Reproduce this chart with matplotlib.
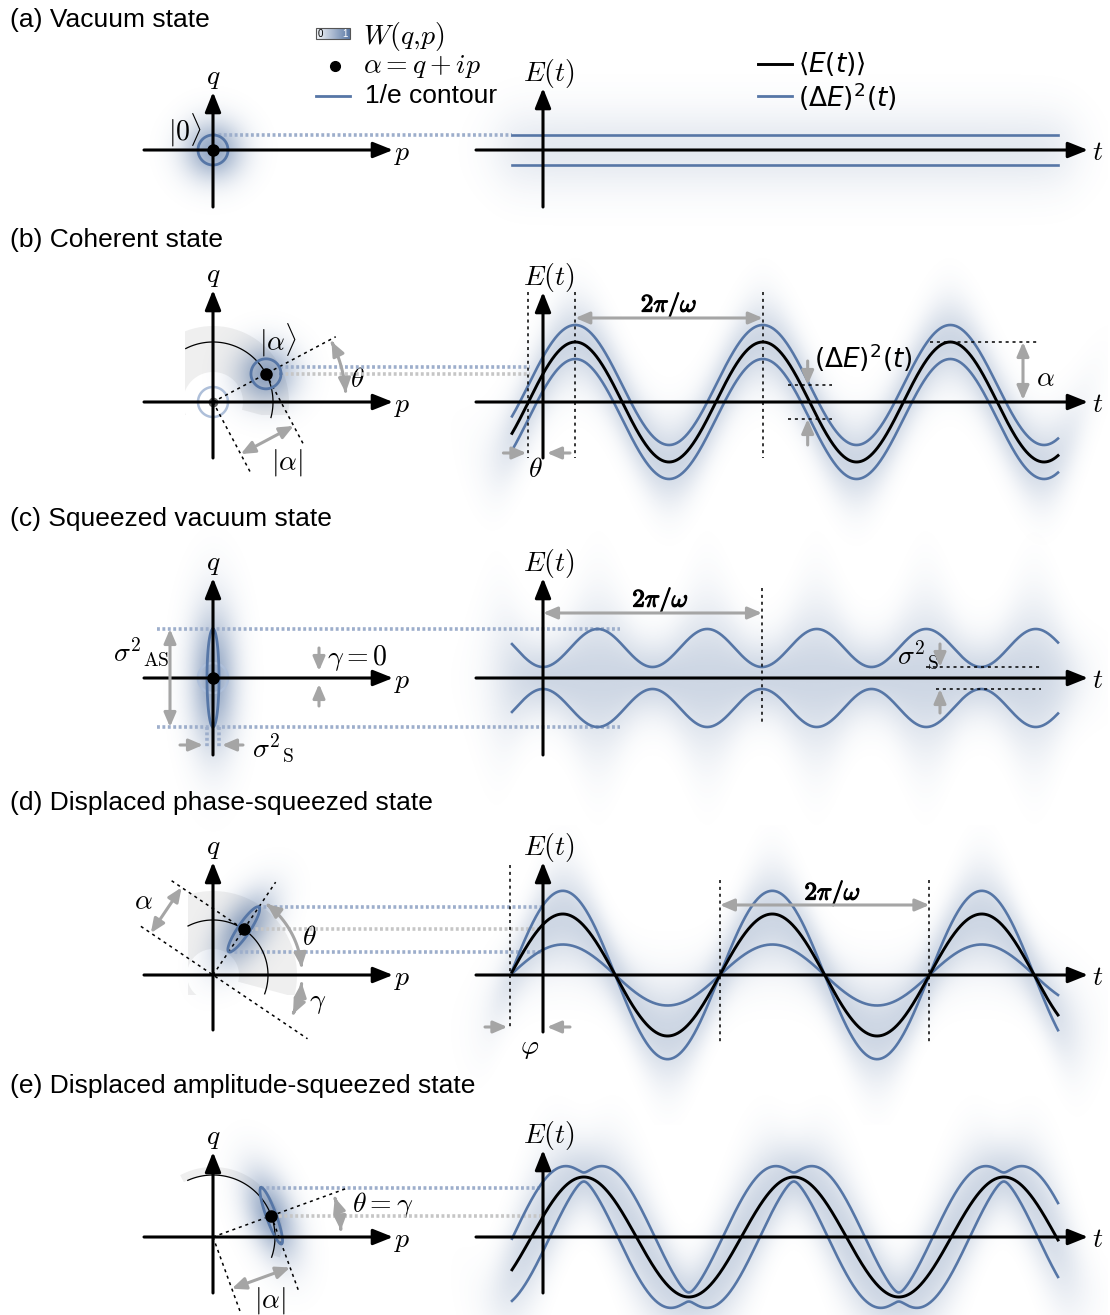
import numpy as np
import matplotlib
matplotlib.use("Agg")
import matplotlib.pyplot as plt
import matplotlib.patheffects as pe
from matplotlib.patches import Polygon, FancyArrowPatch, Rectangle
from matplotlib.path import Path
from matplotlib.colors import to_rgb

plt.rcParams['mathtext.fontset'] = 'cm'
plt.rcParams['font.family'] = ['Liberation Sans', 'DejaVu Sans']

BLUE = '#5676a6'
HAZE = '#3f6296'
GRAY = '#a5a5a5'
DOT_BLUE = '#9daecb'
DOT_GRAY = '#c6c6c6'
LIGHT = '#efefef'

titles = ["(a) Vacuum state", "(b) Coherent state", "(c) Squeezed vacuum state",
          "(d) Displaced phase-squeezed state", "(e) Displaced amplitude-squeezed state"]

# coherent amplitude and phase of each state
alpha_abs = [0, 60, 0, 55, 62]
theta_deg = [0, 28, 0, 56, 20]
# 1/e contour: semi-axes and orientation (deg)
contour_a = [15, 15, 49, 27, 30]
contour_b = [15, 15, 6, 6, 5]
contour_ang = [0, 0, 90, 56, 110]
# field traces
period = [190, 187.5, 219, 209.5, 210]
field_amp = [0, 60, 0, 61, 60]
band_width = [15, 17, 0, 0, 0]          # constant noise band, (a) and (b)
sq_vac = (11, 49)                       # (c) min / max half width
phase_sq = (1.38, 0.5)                  # (d) upper / lower scale of <E>
amp_sq = (4.5, 37)                      # (e) noise at crest / at node

# layout (px)
PX0, TX0 = 213, 543
ROW = [150, 402, 678, 975, 1237]
TITLE_Y = [20, 240, 519, 803, 1086]
Q_TOP = [92, 290, 578, 862, 1152]
Q_BOT = [207, 458, 755, 1030, 1293]
E_TOP = [88, 292, 578, 862, 1150]
E_BOT = [207, 458, 755, 1032, 1293]
T_START, T_END = 512, 1058

fig = plt.figure(figsize=(11.1, 13.15), dpi=100)
ax = fig.add_axes([0, 0, 1, 1])

BOLD = [pe.withStroke(linewidth=0.9, foreground='k')]


def polar(k, r, a_deg, base=None):
    a = np.deg2rad(a_deg)
    if base is None:
        base = (PX0, ROW[k])
    return base[0] + r * np.cos(a), base[1] - r * np.sin(a)


def arc_pts(k, r, a1, a2, n=80):
    a = np.deg2rad(np.linspace(a1, a2, n))
    return np.column_stack([PX0 + r * np.cos(a), ROW[k] - r * np.sin(a)])


def ellipse_pts(cx, cy, a, b, ang, n=120):
    s = np.linspace(0, 2 * np.pi, n)
    u, v = a * np.cos(s), b * np.sin(s)
    r = np.deg2rad(ang)
    p = u * np.cos(r) - v * np.sin(r)
    q = u * np.sin(r) + v * np.cos(r)
    return cx + p, cy - q


def traces(k, t):
    ph = 2 * np.pi * t / period[k] + np.deg2rad(theta_deg[k])
    E = field_amp[k] * np.sin(ph)
    if k in (0, 1):
        return E, E + band_width[k], E - band_width[k]
    if k == 2:
        s = sq_vac[0] + (sq_vac[1] - sq_vac[0]) * np.sin(2 * np.pi * t / period[k]) ** 2
        return E, s, -s
    if k == 3:
        return E, E * phase_sq[0], E * phase_sq[1]
    s = np.sqrt((amp_sq[0] * np.sin(ph)) ** 2 + (amp_sq[1] * np.cos(ph)) ** 2)
    return E, E + s, E - s


def put_haze(x0, x1, y0, y1, dens, amax):
    rgba = np.zeros(dens.shape + (4,))
    rgba[..., :3] = to_rgb(HAZE)
    rgba[..., 3] = np.clip(amax * dens, 0, 1)
    ax.imshow(rgba, extent=(x0, x1, y1, y0), origin='upper',
              interpolation='bilinear', zorder=2, aspect='auto')


def phase_haze(cx, cy, su, sv, ang, amax):
    half = 3.3 * max(su, sv)
    xs = np.arange(cx - half, cx + half + 1, 1.0)
    ys = np.arange(cy - half, cy + half + 1, 1.0)
    X, Y = np.meshgrid(xs, ys)
    p, q = X - cx, cy - Y
    a = np.deg2rad(ang)
    u = p * np.cos(a) + q * np.sin(a)
    v = -p * np.sin(a) + q * np.cos(a)
    dens = np.exp(-0.5 * ((u / su) ** 2 + (v / sv) ** 2))
    put_haze(xs[0], xs[-1], ys[0], ys[-1], dens, amax)


def field_haze(k, amax):
    xs = np.arange(440, 1110, 2.0)
    ys = np.arange(ROW[k] - 150, ROW[k] + 151, 2.0)
    E, up, lo = traces(k, xs - TX0)
    c = (up + lo) / 2
    h = np.abs(up - lo) / 2
    s = np.sqrt((h / 1.1) ** 2 + 25 ** 2)
    Y = ys[:, None]
    dens = np.exp(-0.5 * ((ROW[k] - Y - c[None, :]) / s[None, :]) ** 2)
    env = 1 / (1 + np.exp(-(xs - 500) / 12)) / (1 + np.exp((xs - 1072) / 12))
    put_haze(xs[0], xs[-1], ys[0], ys[-1], dens * env[None, :], amax)


def axis_arrow(x1, y1, x2, y2):
    ax.annotate('', xy=(x2, y2), xytext=(x1, y1), zorder=6,
                arrowprops=dict(arrowstyle='-|>,head_length=0.75,head_width=0.3',
                                color='k', lw=2.2, shrinkA=0, shrinkB=0,
                                mutation_scale=16))


def gray_arrow(x1, y1, x2, y2, both=False):
    st = '<|-|>' if both else '-|>'
    ax.annotate('', xy=(x2, y2), xytext=(x1, y1), zorder=6,
                arrowprops=dict(arrowstyle=st + ',head_length=0.7,head_width=0.3',
                                color=GRAY, lw=2.2, shrinkA=0, shrinkB=0,
                                mutation_scale=12))


def gray_arc(k, r, a1, a2):
    pts = arc_pts(k, r, a1, a2, 40)
    ax.add_patch(FancyArrowPatch(path=Path(pts), zorder=6, color=GRAY, lw=2.2,
                                 arrowstyle='<|-|>,head_length=0.7,head_width=0.3',
                                 mutation_scale=12))


def kdots(xs, ys, lw=1.1):
    ax.plot(xs, ys, color='k', lw=lw, ls=(0, (2, 2.5)), zorder=4)


def bluedots(xs, ys, color=DOT_BLUE):
    ax.plot(xs, ys, color=color, lw=2.6, ls=(0, (0.8, 0.7)), zorder=3)


def band(k, r_in, r_out, a1, a2, clip_x, clip_dy):
    outer = arc_pts(k, r_out, a1, a2)
    inner = arc_pts(k, r_in, a2, a1)
    poly = Polygon(np.vstack([outer, inner]), closed=True, fc=LIGHT, ec='none', zorder=1)
    ax.add_patch(poly)
    clip = Rectangle((clip_x, ROW[k] - 200), 300, 200 + clip_dy,
                     transform=ax.transData)
    poly.set_clip_path(clip)


MATH = 20

# ---------------------------------------------------------------- common frame
for k in range(5):
    ax.text(10, TITLE_Y[k], titles[k], fontsize=19, va='center', ha='left')
    # phase space axes
    axis_arrow(PX0 - 69, ROW[k], PX0 + 180, ROW[k])
    axis_arrow(PX0, Q_BOT[k], PX0, Q_TOP[k])
    ax.text(PX0, Q_TOP[k] - 14, '$q$', fontsize=MATH, ha='center', va='center')
    ax.text(PX0 + 189, ROW[k] + 4, '$p$', fontsize=MATH, ha='center', va='center')
    # field axes
    axis_arrow(476, ROW[k], 1088, ROW[k])
    axis_arrow(TX0, E_BOT[k], TX0, E_TOP[k])
    ax.text(TX0 + 6, E_TOP[k] - 15, '$E(t)$', fontsize=MATH, ha='center', va='center')
    ax.text(1098, ROW[k] + 3, '$t$', fontsize=MATH, ha='center', va='center')

    # field traces
    t = np.linspace(T_START - TX0, T_END - TX0, 900)
    E, up, lo = traces(k, t)
    field_haze(k, 0.14 if k == 0 else 0.26)
    ax.plot(TX0 + t, ROW[k] - up, color=BLUE, lw=1.9, zorder=4)
    ax.plot(TX0 + t, ROW[k] - lo, color=BLUE, lw=1.9, zorder=4)
    if field_amp[k] > 0:
        ax.plot(TX0 + t, ROW[k] - E, color='k', lw=2.1, zorder=5)

    # Wigner function blob and 1/e contour
    cx, cy = polar(k, alpha_abs[k], theta_deg[k])
    a, b = contour_a[k], contour_b[k]
    phase_haze(cx, cy, np.hypot(a * 0.95, 15), np.hypot(b * 0.95, 15), contour_ang[k], 0.55)
    ex, ey = ellipse_pts(cx, cy, a, b, contour_ang[k])
    ax.plot(ex, ey, color=BLUE, lw=2.0, zorder=5)
    ax.plot(cx, cy, 'o', color='k', ms=8, zorder=7)

# ---------------------------------------------------------------- legend
grad = np.linspace(0, 1, 60)[None, :]
rgba = np.zeros((1, 60, 4))
rgba[..., :3] = to_rgb(HAZE)
rgba[..., 3] = 0.05 + 0.8 * grad
ax.imshow(rgba, extent=(316, 350, 39, 28), origin='upper', aspect='auto', zorder=5)
ax.add_patch(Rectangle((316, 28), 34, 11, fc='none', ec='#555555', lw=0.8, zorder=6))
ax.text(320.5, 33.5, '0', fontsize=7, ha='center', va='center', zorder=7)
ax.text(345, 33.5, '1', fontsize=7, ha='center', va='center', color='white', zorder=7)
ax.text(363, 36, '$W(q{,}p)$', fontsize=MATH, ha='left', va='center')
ax.plot(335, 66, 'o', color='k', ms=7)
ax.text(363, 66, r'$\alpha = q + ip$', fontsize=MATH, ha='left', va='center')
ax.plot([316, 350], [96, 96], color=BLUE, lw=2.0)
ax.text(365, 96, '1/e contour', fontsize=19, ha='left', va='center')
ax.plot([758, 792], [64, 64], color='k', lw=2.1)
ax.text(798, 64, r'$\langle E(t)\rangle$', fontsize=19, ha='left', va='center',
        math_fontfamily='dejavusans')
ax.plot([758, 792], [96, 96], color=BLUE, lw=2.0)
ax.text(798, 97, r'$(\mathit{\Delta E})^2(t)$', fontsize=19, ha='left', va='center',
        math_fontfamily='dejavusans')

# ---------------------------------------------------------------- (a)
k = 0
ax.text(185, 130, r'$|0\rangle$', fontsize=MATH, ha='center', va='center')
bluedots([PX0, T_START], [ROW[k] - band_width[k]] * 2)

# ---------------------------------------------------------------- (b)
k = 1
th, A, T = theta_deg[k], alpha_abs[k], period[k]
band(k, 30, 76, -15, 270, 185, 13)
o = (PX0, ROW[k])
dot = polar(k, A, th)
ax.plot(*zip(*[polar(k, 15, a) for a in np.linspace(0, 360, 90)]), color='#aebfd9', lw=1.8, zorder=4)
ax.plot(PX0, ROW[k], 'o', color='#666666', ms=6, zorder=4)
arc = arc_pts(k, A, -15, 117)
ax.plot(arc[:, 0], arc[:, 1], color='k', lw=0.9, zorder=4)
kdots(*zip(o, polar(k, 139, th)))
kdots(*zip(o, polar(k, 80, th - 90, o)))
kdots(*zip(dot, polar(k, 82, th - 90, dot)))
p1, p2 = polar(k, 59, th - 90, o), polar(k, 59, th - 90, dot)
gray_arrow(*p1, *p2, both=True)
ax.text(287, 462, r'$|\alpha|$', fontsize=MATH, ha='center', va='center')
gray_arc(k, 133, 4, 27)
ax.text(357, 380, r'$\theta$', fontsize=MATH, ha='center', va='center')
ax.text(278, 340, r'$|\alpha\rangle$', fontsize=MATH, ha='center', va='center')
bluedots([dot[0] + 14, 530], [dot[1] - 7] * 2)
bluedots([dot[0] + 14, 530], [dot[1]] * 2, DOT_GRAY)

tz = TX0 - th / 360 * T
tp = TX0 + (90 - th) / 360 * T
for x in (tz, tp, tp + T):
    kdots([x, x], [292, 458])
gray_arrow(tp, 318, tp + T, 318, both=True)
ax.text((2 * tp + T) / 2, 305, r'$2\pi/\omega$', fontsize=18, ha='center', va='center',
        path_effects=BOLD)
gray_arrow(tz - 25, 453, tz - 2, 453)
gray_arrow(TX0 + 27, 453, TX0 + 4, 453)
ax.text((tz + TX0) / 2, 470, r'$\theta$', fontsize=MATH, ha='center', va='center')
xp3 = tp + 2 * T
kdots([xp3 - 20, 1040], [ROW[k] - A] * 2)
gray_arrow(1023, ROW[k] - A, 1023, ROW[k] - 2, both=True)
ax.text(1045, 379, r'$\alpha$', fontsize=MATH, ha='center', va='center')
xz = TX0 + (180 - th) / 360 * T + T
s = band_width[k]
kdots([xz - 22, xz + 22], [ROW[k] - s] * 2)
kdots([xz - 22, xz + 22], [ROW[k] + s] * 2)
gray_arrow(xz - 2, ROW[k] - s - 24, xz - 2, ROW[k] - s)
gray_arrow(xz - 2, ROW[k] + s + 26, xz - 2, ROW[k] + s)
ax.text(863, 358, r'$(\mathit{\Delta E})^2(t)$', fontsize=19, ha='center', va='center',
        math_fontfamily='dejavusans')

# ---------------------------------------------------------------- (c)
k = 2
T = period[k]
ax.plot(*zip(*[polar(k, 15, a) for a in np.linspace(0, 360, 90)]), color='#aebfd9', lw=1.8, zorder=4)
hi, lo_ = sq_vac[1], sq_vac[0]
bluedots([157, 620], [ROW[k] - hi] * 2)
bluedots([157, 620], [ROW[k] + hi] * 2)
for x in (PX0 - contour_b[k], PX0 + contour_b[k]):
    bluedots([x, x], [ROW[k] + hi, ROW[k] + 70])
gray_arrow(170, ROW[k] - hi, 170, ROW[k] + hi, both=True)
ax.text(141, 652, r'$\sigma^2{}_{\mathrm{AS}}$', fontsize=MATH, ha='center', va='center')
gray_arrow(180, ROW[k] + 67, 203, ROW[k] + 67)
gray_arrow(243, ROW[k] + 67, 222, ROW[k] + 67)
ax.text(273, 748, r'$\sigma^2{}_{\mathrm{S}}$', fontsize=MATH, ha='center', va='center')
gray_arrow(319, 648, 319, 671)
gray_arrow(319, 706, 319, 684)
ax.text(327, 658, r'$\gamma = 0$', fontsize=MATH, ha='left', va='center')

kdots([TX0 + T, TX0 + T], [588, 722])
gray_arrow(TX0, 613, TX0 + T, 613, both=True)
ax.text(TX0 + T / 2 + 8, 600, r'$2\pi/\omega$', fontsize=18, ha='center', va='center',
        path_effects=BOLD)
xt = TX0 + 2 * T
kdots([xt - 55, xt + 60], [ROW[k] - lo_] * 2)
kdots([xt - 45, xt + 60], [ROW[k] + lo_] * 2)
gray_arrow(xt - 41, ROW[k] - lo_ - 23, xt - 41, ROW[k] - lo_)
gray_arrow(xt - 41, ROW[k] + lo_ + 24, xt - 41, ROW[k] + lo_)
ax.text(918, 655, r'$\sigma^2{}_{\mathrm{S}}$', fontsize=MATH, ha='center', va='center')

# ---------------------------------------------------------------- (d)
k = 3
th, A, T = theta_deg[k], alpha_abs[k], period[k]
band(k, 26, 84, -15, 270, 188, 20)
o = (PX0, ROW[k])
dot = polar(k, A, th)
arc = arc_pts(k, A, -20, 117)
ax.plot(arc[:, 0], arc[:, 1], color='k', lw=0.9, zorder=4)
kdots(*zip(o, polar(k, 112, th)))
kdots(*zip(polar(k, 87, th + 90, o), polar(k, 114, th - 90, o)))
kdots(*zip(polar(k, 87, th + 90, dot), dot))
gray_arrow(*polar(k, 75, th + 90, o), *polar(k, 75, th + 90, dot), both=True)
ax.text(143, 902, r'$\alpha$', fontsize=MATH, ha='center', va='center')
gray_arc(k, 89, 5, 53)
ax.text(309, 938, r'$\theta$', fontsize=MATH, ha='center', va='center')
gray_arc(k, 89, -26, -5)
ax.text(318, 1003, r'$\gamma$', fontsize=MATH, ha='center', va='center')
ex, ey = ellipse_pts(*dot, contour_a[k], contour_b[k], contour_ang[k])
i_top, i_bot = np.argmin(ey), np.argmax(ey)
bluedots([ex[i_top], TX0], [ey[i_top]] * 2)
bluedots([ex[i_bot], TX0], [ey[i_bot]] * 2)
bluedots([dot[0] + 6, TX0], [dot[1]] * 2, DOT_GRAY)

tz = TX0 - th / 360 * T
kdots([tz, tz], [865, 1030])
for x in (tz + T, tz + 2 * T):
    kdots([x, x], [880, 1045])
gray_arrow(tz + T, 905, tz + 2 * T, 905, both=True)
ax.text(tz + 1.5 * T + 8, 893, r'$2\pi/\omega$', fontsize=18, ha='center', va='center',
        path_effects=BOLD)
gray_arrow(485, 1027, tz - 3, 1027)
gray_arrow(570, 1027, TX0 + 4, 1027)
ax.text(530, 1048, r'$\varphi$', fontsize=MATH, ha='center', va='center')

# ---------------------------------------------------------------- (e)
k = 4
th, A = theta_deg[k], alpha_abs[k]
band(k, A, A + 8, -17, 118, 0, 60)
o = (PX0, ROW[k])
dot = polar(k, A, th)
arc = arc_pts(k, A, -19, 114)
ax.plot(arc[:, 0], arc[:, 1], color='k', lw=0.9, zorder=4)
kdots(*zip(o, polar(k, 143, th)))
kdots(*zip(o, polar(k, 82, th - 90, o)))
kdots(*zip(dot, polar(k, 82, th - 90, dot)))
gray_arrow(*polar(k, 55, th - 90, o), *polar(k, 55, th - 90, dot), both=True)
ax.text(270, 1300, r'$|\alpha|$', fontsize=MATH, ha='center', va='center')
gray_arc(k, 128, 3, 18)
ax.text(352, 1205, r'$\theta = \gamma$', fontsize=MATH, ha='left', va='center')
ex, ey = ellipse_pts(*dot, contour_a[k], contour_b[k], contour_ang[k])
i_top = np.argmin(ey)
bluedots([ex[i_top], TX0], [ey[i_top]] * 2)
bluedots([dot[0] + 8, TX0], [dot[1]] * 2, DOT_GRAY)

ax.set_xlim(0, 1110)
ax.set_ylim(1315, 0)
ax.axis('off')
fig.savefig('out.png', dpi=100, facecolor='white')
